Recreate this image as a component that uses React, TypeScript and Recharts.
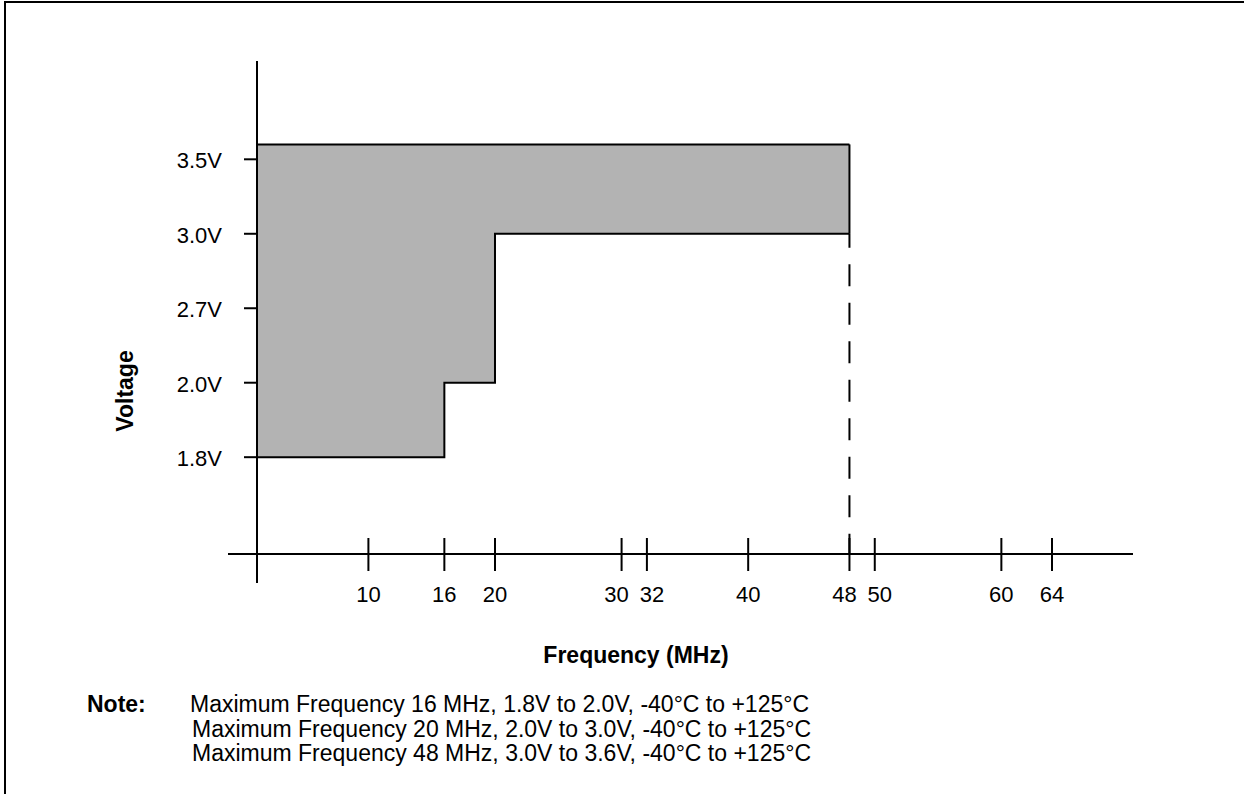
import React from 'react';
import { ComposedChart, Area, XAxis, YAxis, ReferenceLine, Label } from 'recharts';

// ---- data ----
const freqTicks = [10, 16, 20, 30, 32, 40, 48, 50, 60, 64];
// unlabeled origin of the frequency axis
const freqOrigin = 1.2;
const voltageTicks = [1.8, 2.0, 2.7, 3.0, 3.5];
const voltageTickLabels = ['1.8V', '2.0V', '2.7V', '3.0V', '3.5V'];
const envFreq = [freqOrigin, 16, 20, 48];
const envLowV = [1.8, 2.0, 3.0, 3.0];
const envHighV = [3.6, 3.6, 3.6, 3.6];
const maxFreq = 48;
const maxFreqLowV = 3.0;
const maxFreqHighV = 3.6;
const noteLines = [
  'Maximum Frequency 16 MHz, 1.8V to 2.0V, -40°C to +125°C',
  'Maximum Frequency 20 MHz, 2.0V to 3.0V, -40°C to +125°C',
  'Maximum Frequency 48 MHz, 3.0V to 3.6V, -40°C to +125°C',
];

// schematic (ordinal-like) voltage axis: ticks equally spaced
function voltToPos(v: number): number {
  const t = voltageTicks;
  let i = 0;
  while (i < t.length - 2 && v > t[i + 1]) i++;
  return i + (v - t[i]) / (t[i + 1] - t[i]);
}

const envelope = envFreq.map((f, i) => ({
  f,
  band: [voltToPos(envLowV[i]), voltToPos(envHighV[i])],
}));

const yTickPos = voltageTicks.map(voltToPos);
const Y_FLOOR = -1.3;
const Y_CEIL = 5.32;

const FONT = '"Liberation Sans", Arial, Helvetica, sans-serif';

const XTick = (props: any) => {
  const { x, y, payload } = props;
  const v = payload.value;
  if (v === freqOrigin) {
    return <line x1={x} x2={x} y1={y} y2={y + 29} stroke="#000" strokeWidth={2} />;
  }
  const i = freqTicks.indexOf(v);
  const prev = freqTicks[i - 1];
  const next = freqTicks[i + 1];
  let dx = 0;
  if (next !== undefined && next - v <= 2) dx -= 5;
  if (prev !== undefined && v - prev <= 2) dx += 5;
  return (
    <g>
      <line x1={x} x2={x} y1={y - 16} y2={y + 17} stroke="#000" strokeWidth={2} />
      <text x={x + dx} y={y + 48} textAnchor="middle" fontSize={22} fontFamily={FONT} fill="#000">
        {v}
      </text>
    </g>
  );
};

const YTick = (props: any) => {
  const { x, y, payload } = props;
  const idx = yTickPos.indexOf(payload.value);
  return (
    <g>
      <line x1={x + 16} x2={x + 29} y1={y} y2={y} stroke="#000" strokeWidth={2} />
      <text x={x - 6} y={y + 9} textAnchor="end" fontSize={22} fontFamily={FONT} fill="#000">
        {idx >= 0 ? voltageTickLabels[idx] : ''}
      </text>
    </g>
  );
};

const XTitle = () => (
  <text x={636} y={663} textAnchor="middle" fontSize={23} fontWeight="bold" fontFamily={FONT} fill="#000">
    Frequency (MHz)
  </text>
);

const YTitle = () => (
  <text
    x={133}
    y={391}
    transform="rotate(-90 133 391)"
    textAnchor="middle"
    fontSize={23}
    fontWeight="bold"
    fontFamily={FONT}
    fill="#000"
  >
    Voltage
  </text>
);

export default function App() {
  return (
    <div style={{ position: 'absolute', left: 0, top: 0, width: 1244, height: 794, background: '#fff', fontFamily: FONT }}>
      <div
        style={{
          position: 'absolute',
          left: 4,
          top: 1,
          width: 1240,
          height: 793,
          borderTop: '2px solid #000',
          borderLeft: '2px solid #000',
          boxSizing: 'border-box',
        }}
      />
      <div style={{ position: 'absolute', left: 0, top: 0 }}>
        <ComposedChart
          width={1244}
          height={794}
          data={envelope}
          margin={{ top: 61, right: 111, bottom: 130, left: 168 }}
        >
          <XAxis
            type="number"
            dataKey="f"
            domain={[freqOrigin, 64]}
            ticks={[freqOrigin, ...freqTicks]}
            interval={0}
            padding={{ left: 29, right: 81 }}
            allowDataOverflow
            axisLine={{ stroke: '#000', strokeWidth: 2 }}
            tickLine={false}
            tickSize={0}
            tickMargin={0}
            tick={<XTick />}
            height={110}
          >
            <Label content={<XTitle />} />
          </XAxis>
          <YAxis
            type="number"
            domain={[Y_FLOOR, Y_CEIL]}
            ticks={yTickPos}
            interval={0}
            allowDataOverflow
            axisLine={false}
            tickLine={false}
            tickSize={0}
            tickMargin={0}
            tick={<YTick />}
            width={60}
          >
            <Label content={<YTitle />} />
          </YAxis>
          <Area
            dataKey="band"
            type="stepAfter"
            fill="#b3b3b3"
            fillOpacity={1}
            stroke="#000"
            strokeWidth={2}
            isAnimationActive={false}
            dot={false}
            activeDot={false}
          />
          <ReferenceLine x={freqOrigin} stroke="#000" strokeWidth={2} ifOverflow="visible" />
          <ReferenceLine
            segment={[
              { x: maxFreq, y: voltToPos(maxFreqLowV) },
              { x: maxFreq, y: voltToPos(maxFreqHighV) },
            ]}
            stroke="#000"
            strokeWidth={2}
            ifOverflow="visible"
          />
          <ReferenceLine
            segment={[
              { x: maxFreq, y: voltToPos(maxFreqLowV) },
              { x: maxFreq, y: Y_FLOOR },
            ]}
            stroke="#000"
            strokeWidth={2}
            strokeDasharray="22 16.5"
            strokeDashoffset={8}
            ifOverflow="visible"
          />
        </ComposedChart>
      </div>
      <svg style={{ position: 'absolute', left: 0, top: 0 }} width={1244} height={794}>
        <text x={87} y={712} fontSize={23} fontWeight="bold" fontFamily={FONT} fill="#000">
          Note:
        </text>
        {noteLines.map((line, i) => (
          <text key={i} x={i === 0 ? 190 : 192} y={712 + i * 24.5} fontSize={23} fontFamily={FONT} fill="#000">
            {line}
          </text>
        ))}
      </svg>
    </div>
  );
}
